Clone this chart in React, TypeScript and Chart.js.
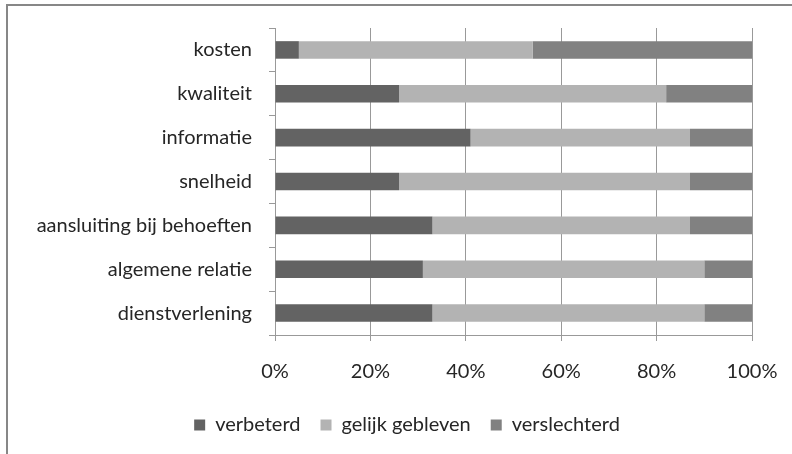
import React, { useEffect, useRef } from "react";
import { Chart, registerables } from "chart.js";

Chart.register(...registerables);

const categories = [
  "kosten",
  "kwaliteit",
  "informatie",
  "snelheid",
  "aansluiting bij behoeften",
  "algemene relatie",
  "dienstverlening",
];
const verbeterd = [5, 26, 41, 26, 33, 31, 33];
const gelijkGebleven = [49, 56, 46, 61, 54, 59, 57];
const verslechterd = [46, 18, 13, 13, 13, 10, 10];
const seriesNames = ["verbeterd", "gelijk gebleven", "verslechterd"];
const xTicks = [0, 20, 40, 60, 80, 100];

const FONT = "Lato";
const TEXT = "#262626";
const GRID = "#999999";
const PAD_LEFT = 10;
const AXIS_X = 275;
const LEGEND_CENTER = 407;

const borderPlugin = {
  id: "outerBorder",
  afterLayout(chart: any) {
    const lg = chart.legend;
    if (lg) {
      const shift = LEGEND_CENTER - (lg.left + lg.right) / 2;
      lg.left += shift;
      lg.right += shift;
    }
  },
  beforeDraw(chart: any) {
    const ctx = chart.ctx;
    ctx.save();
    ctx.fillStyle = "#ffffff";
    ctx.fillRect(0, 0, chart.width, chart.height);
    ctx.strokeStyle = "#878787";
    ctx.lineWidth = 2;
    ctx.beginPath();
    ctx.moveTo(6, 5);
    ctx.lineTo(chart.width, 5);
    ctx.moveTo(7, 4);
    ctx.lineTo(7, chart.height);
    ctx.stroke();
    ctx.restore();
  },
};

export default function App() {
  const ref = useRef<HTMLCanvasElement>(null);
  useEffect(() => {
    if (!ref.current) return;
    const chart = new Chart(ref.current, {
      type: "bar",
      data: {
        labels: categories,
        datasets: [
          { label: seriesNames[0], data: verbeterd, backgroundColor: "#636363" },
          { label: seriesNames[1], data: gelijkGebleven, backgroundColor: "#b3b3b3" },
          { label: seriesNames[2], data: verslechterd, backgroundColor: "#818181" },
        ],
      },
      options: {
        indexAxis: "y",
        responsive: false,
        animation: false,
        devicePixelRatio: 1,
        layout: { padding: { left: PAD_LEFT, right: 40, top: 28, bottom: 9 } },
        datasets: { bar: { categoryPercentage: 1, barPercentage: 0.4 } },
        plugins: {
          tooltip: { enabled: false },
          legend: {
            position: "bottom",
            labels: {
              font: { family: FONT, size: 20 },
              color: TEXT,
              boxWidth: 11,
              boxHeight: 11,
              padding: 20,
            },
          },
        },
        scales: {
          x: {
            stacked: true,
            min: 0,
            max: 100,
            afterBuildTicks: (scale: any) => {
              scale.ticks = xTicks.map((v) => ({ value: v }));
            },
            afterFit: (scale: any) => {
              scale.height = 60;
              scale.paddingLeft = 0;
              scale.paddingRight = 0;
            },
            ticks: {
              callback: (v: any) => v + "%",
              font: { family: FONT, size: 20 },
              color: TEXT,
              padding: 19,
              maxRotation: 0,
            },
            grid: { color: GRID, tickLength: 6, drawOnChartArea: true },
            border: { color: GRID },
          },
          y: {
            stacked: true,
            afterFit: (scale: any) => {
              scale.width = AXIS_X - PAD_LEFT;
              scale.paddingTop = 0;
              scale.paddingBottom = 0;
            },
            ticks: {
              font: { family: FONT, size: 20 },
              color: TEXT,
              padding: 17,
            },
            grid: { color: GRID, tickLength: 6, drawOnChartArea: false, offset: true },
            border: { color: GRID },
          },
        },
      },
      plugins: [borderPlugin],
    } as any);
    return () => chart.destroy();
  }, []);
  return (
    <div style={{ position: "absolute", left: 0, top: 0, width: 792, height: 454 }}>
      <canvas ref={ref} width={792} height={454} />
    </div>
  );
}
